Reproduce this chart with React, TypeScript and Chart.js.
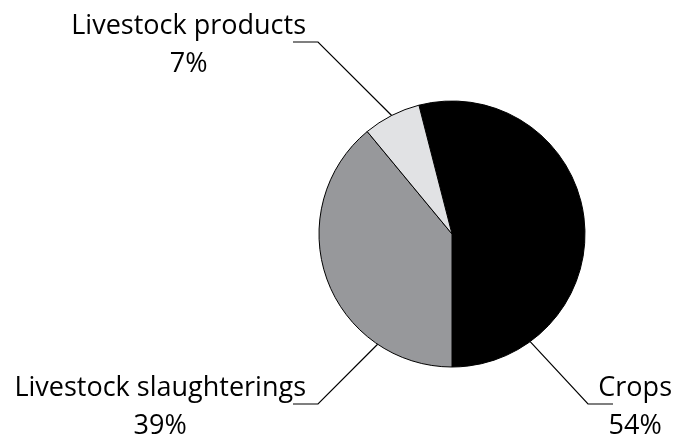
import React, { useEffect, useRef } from "react";
import { Chart, registerables } from "chart.js";

Chart.register(...registerables);

const categories = ["Crops", "Livestock slaughterings", "Livestock products"];
const shares = [54, 39, 7];
const sliceColors = ["#000000", "#97989b", "#e1e2e4"];

// Leader line layout: attach angle (deg clockwise from top), elbow offset from centre, side
const leaderLayout = [
  { angle: 144, dx: 136, dy: 170, side: 1 },
  { angle: 214, dx: -134, dy: 170, side: -1 },
  { angle: -27, dx: -134, dy: -192, side: -1 },
];

const FONT = '27px "Open Sans", "Noto Sans", sans-serif';

const labelPlugin = {
  id: "leaderLabels",
  afterDraw(chart: any) {
    const meta = chart.getDatasetMeta(0);
    const arc = meta.data[0];
    if (!arc) return;
    const cx = arc.x;
    const cy = arc.y;
    const r = arc.outerRadius;
    const ctx = chart.ctx;
    ctx.save();
    ctx.font = FONT;
    ctx.fillStyle = "#000";
    ctx.strokeStyle = "#000";
    ctx.lineWidth = 1.2;
    categories.forEach((name, i) => {
      const L = leaderLayout[i];
      const a = (L.angle * Math.PI) / 180;
      const px = cx + Math.sin(a) * r;
      const py = cy - Math.cos(a) * r;
      const ex = cx + L.dx;
      const ey = cy + L.dy;
      const hx = ex + L.side * 25;
      ctx.beginPath();
      ctx.moveTo(px, py);
      ctx.lineTo(ex, ey);
      ctx.lineTo(hx, ey);
      ctx.stroke();
      const pct = shares[i] + "%";
      const w1 = ctx.measureText(name).width;
      let centre: number;
      if (L.side < 0) {
        centre = ex - 12 - w1 / 2;
      } else {
        centre = Math.min(ex + 15 + w1 / 2, chart.width - 2 - w1 / 2);
      }
      ctx.textAlign = "center";
      ctx.textBaseline = "alphabetic";
      ctx.fillText(name, centre, ey - 8);
      ctx.fillText(pct, centre, ey + 30);
    });
    ctx.restore();
  },
};

export default function App() {
  const ref = useRef<HTMLCanvasElement | null>(null);
  useEffect(() => {
    document.body.style.margin = "0";
    if (!ref.current) return;
    const chart = new Chart(ref.current, {
      type: "pie",
      data: {
        labels: categories,
        datasets: [
          {
            data: shares,
            backgroundColor: sliceColors,
            borderColor: "#000",
            borderWidth: 1,
            hoverOffset: 0,
          },
        ],
      },
      options: {
        animation: false,
        responsive: false,
        rotation: -14.4,
        radius: 133,
        layout: { padding: { left: 318, right: 88, top: 100, bottom: 69 } },
        plugins: {
          legend: { display: false },
          tooltip: { enabled: false },
        },
      },
      plugins: [labelPlugin],
    });
    return () => chart.destroy();
  }, []);
  return (
    <div style={{ position: "absolute", left: 0, top: 0, width: 674, height: 437, background: "#fff" }}>
      <canvas ref={ref} width={674} height={437} />
    </div>
  );
}
